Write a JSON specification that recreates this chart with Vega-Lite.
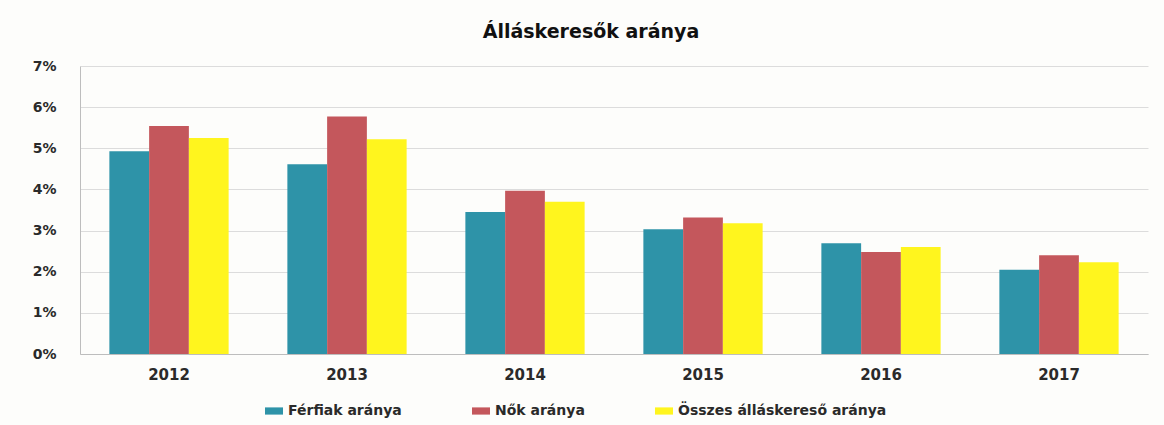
{
  "$schema": "https://vega.github.io/schema/vega-lite/v6.json",
  "width": 1068,
  "height": 288,
  "autosize": {"type": "none"},
  "padding": {"left": 80, "top": 66, "right": 16, "bottom": 71},
  "background": "#fdfdfb",
  "title": {
    "text": "Álláskeresők aránya",
    "font": "DejaVu Sans",
    "fontSize": 19,
    "fontWeight": "bold",
    "color": "#111111",
    "anchor": "middle",
    "dx": -23,
    "offset": 17
  },
  "data": {
    "values": [
      {"year": "2012", "series": "Férfiak aránya", "value": 0.0493},
      {"year": "2012", "series": "Nők aránya", "value": 0.0554},
      {"year": "2012", "series": "Összes álláskereső aránya", "value": 0.0525},
      {"year": "2013", "series": "Férfiak aránya", "value": 0.0461},
      {"year": "2013", "series": "Nők aránya", "value": 0.0577},
      {"year": "2013", "series": "Összes álláskereső aránya", "value": 0.0522},
      {"year": "2014", "series": "Férfiak aránya", "value": 0.0345},
      {"year": "2014", "series": "Nők aránya", "value": 0.0397},
      {"year": "2014", "series": "Összes álláskereső aránya", "value": 0.0370},
      {"year": "2015", "series": "Férfiak aránya", "value": 0.0303},
      {"year": "2015", "series": "Nők aránya", "value": 0.0332},
      {"year": "2015", "series": "Összes álláskereső aránya", "value": 0.0318},
      {"year": "2016", "series": "Férfiak aránya", "value": 0.0269},
      {"year": "2016", "series": "Nők aránya", "value": 0.0248},
      {"year": "2016", "series": "Összes álláskereső aránya", "value": 0.0260},
      {"year": "2017", "series": "Férfiak aránya", "value": 0.0205},
      {"year": "2017", "series": "Nők aránya", "value": 0.0240},
      {"year": "2017", "series": "Összes álláskereső aránya", "value": 0.0223}
    ]
  },
  "mark": {"type": "bar"},
  "encoding": {
    "x": {
      "field": "year",
      "type": "nominal",
      "title": null,
      "scale": {"paddingInner": 0.33, "paddingOuter": 0.165},
      "axis": {
        "labelAngle": 0,
        "labelFont": "DejaVu Sans",
        "labelFontWeight": "bold",
        "labelFontSize": 15,
        "labelColor": "#2a2a2a",
        "labelPadding": 13,
        "ticks": false,
        "domainColor": "#bdbdbd",
        "grid": false
      }
    },
    "xOffset": {
      "field": "series",
      "type": "nominal",
      "sort": ["Férfiak aránya", "Nők aránya", "Összes álláskereső aránya"]
    },
    "y": {
      "field": "value",
      "type": "quantitative",
      "title": null,
      "scale": {"domain": [0, 0.07], "nice": false},
      "axis": {
        "values": [0, 0.01, 0.02, 0.03, 0.04, 0.05, 0.06, 0.07],
        "format": ".0%",
        "labelFont": "DejaVu Sans",
        "labelFontWeight": "bold",
        "labelFontSize": 14,
        "labelColor": "#2a2a2a",
        "labelPadding": 24,
        "ticks": false,
        "domainColor": "#bdbdbd",
        "gridColor": "#dcdcdc"
      }
    },
    "color": {
      "field": "series",
      "type": "nominal",
      "sort": ["Férfiak aránya", "Nők aránya", "Összes álláskereső aránya"],
      "scale": {
        "domain": ["Férfiak aránya", "Nők aránya", "Összes álláskereső aránya"],
        "range": ["#2E93A8", "#C4575C", "#FFF51E"]
      },
      "legend": {
        "title": null,
        "orient": "none",
        "legendX": 185,
        "legendY": 336,
        "direction": "horizontal",
        "symbolType": "M-1,-0.4H1V0.4H-1Z",
        "symbolSize": 324,
        "symbolStrokeWidth": 0,
        "labelOffset": 5,
        "labelLimit": 400,
        "labelFont": "DejaVu Sans",
        "labelFontWeight": "bold",
        "labelFontSize": 14,
        "labelColor": "#2a2a2a",
        "columnPadding": 70
      }
    }
  },
  "config": {
    "view": {"stroke": null}
  }
}
